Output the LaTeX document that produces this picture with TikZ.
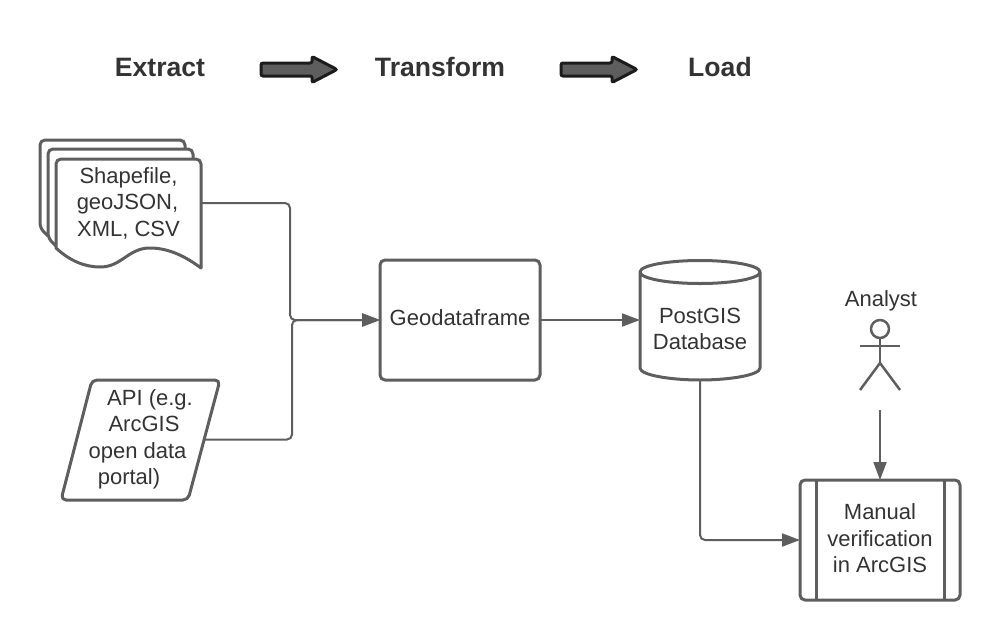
\documentclass[tikz,border=0pt]{standalone}
\usepackage{fontspec}
\setmainfont{Liberation Sans}
\usetikzlibrary{arrows.meta,positioning,shapes.arrows}
\definecolor{linegray}{HTML}{5E5E5E}
\definecolor{textgray}{HTML}{333333}
\tikzset{
	base/.style={inner sep=0pt,outer sep=0pt,text=textgray,align=center,font=\fontsize{22}{26.5}\selectfont},
	title/.style={inner sep=0pt,outer sep=0pt,text=textgray,font=\fontsize{26.6}{30}\selectfont\bfseries},
	outline/.style={draw=linegray,line width=3pt,line join=round},
	box/.style={base,outline,rounded corners=5pt,minimum width=160pt,minimum height=120pt},
	conn/.style={draw=linegray,line width=2pt,rounded corners=5pt,-{Triangle[length=18pt,width=13pt]}},
	bigarrow/.style={single arrow,anchor=tip,draw=black!70!linegray,fill=linegray,line width=3pt,rounded corners=2pt,inner xsep=0pt,inner ysep=5pt,outer sep=0pt,minimum width=23pt,minimum height=76pt,single arrow head extend=6.5pt,single arrow tip angle=55,single arrow head indent=0pt}
}
\begin{document}
\begin{tikzpicture}[x=1pt,y=-1pt]
	\useasboundingbox (0,0) rectangle (1000,640);
	\node (extract) [title] at (160,67) {Extract};
	\node (transform) [title] at (440,67) {Transform};
	\node (load) [title] at (720,67) {Load};
	\node (arrow1) [bigarrow] at (337,69.5) {};
	\node (arrow2) [bigarrow] at (637,69.5) {};
	\draw[outline,rounded corners=5pt,fill=white] (48,236) -- (40,228) -- (40,140) -- (185,140) -- (185,210);
	\draw[outline,rounded corners=5pt,fill=white] (56,246) -- (48,238) -- (48,149) -- (193,149) -- (193,220);
	\draw[outline,fill=white] (56,248) .. controls (70,261) and (85,267) .. (100,267) .. controls (122,267) and (128,248) .. (150,248) .. controls (168,248) and (185,256) .. (201,268) -- (201,164) arc (0:-90:5) -- (61,159) arc (-90:-180:5) -- cycle;
	\node (docs) [base,minimum width=145pt] at (128.5,203) {Shapefile,\\geoJSON,\kern2pt\\XML, CSV};
	\draw[outline,rounded corners=5pt] (92,380) -- (220,380) -- (188,500) -- (61,500) -- cycle;
	\node (api) [base,minimum width=130pt] at (140,439.5) {\hspace*{20pt}API (e.g.\\\hspace*{8pt}ArcGIS\\open data\kern5pt\\portal)\kern22pt};
	\node (geo) [box,text depth=4.6pt] at (460,320) {Geodataframe};
	\draw[outline] (640,272) arc (180:-180:60 and 11.5) -- (640,368) .. controls (640,375) and (670,380) .. (700,380) .. controls (730,380) and (760,375) .. (760,368) -- (760,272);
	\node (pg) [base,minimum width=120pt,minimum height=120pt] at (700,320) {};
	\node (pglabel) [base] at (700,329) {PostGIS\\Database};
	\node (analyst) [base] at (881,301) {Analyst};
	\node (head) [circle,outline,line width=2.5pt,minimum size=18pt,inner sep=0pt,outer sep=0pt] at (880,329) {};
	\coordinate (hip) at (880,363);
	\coordinate (foot) at (880,410);
	\draw[outline,line width=2.5pt] (head) -- (hip);
	\draw[outline,line width=2.5pt] (860,346) -- (900,346);
	\draw[outline,line width=2.5pt] (860,390) -- (hip) -- (900,390);
	\node (manual) [box,text depth=3pt] at (880,540) {Manual\\verification\\in ArcGIS};
	\draw[outline] ([xshift=16pt]manual.north west) -- ([xshift=16pt]manual.south west);
	\draw[outline] ([xshift=-16pt]manual.north east) -- ([xshift=-16pt]manual.south east);
	\coordinate (merge1) at (290,320);
	\coordinate (merge2) at (292,320);
	\draw[conn] (docs.east) -| (merge1) -- (geo.west);
	\draw[conn] (api.east) -| (merge2) -- (geo.west);
	\draw[conn] (geo.east) -- (pg.west);
	\draw[conn] (pg.south) |- (manual.west);
	\draw[conn] (foot) -- (manual.north);
\end{tikzpicture}
\end{document}
